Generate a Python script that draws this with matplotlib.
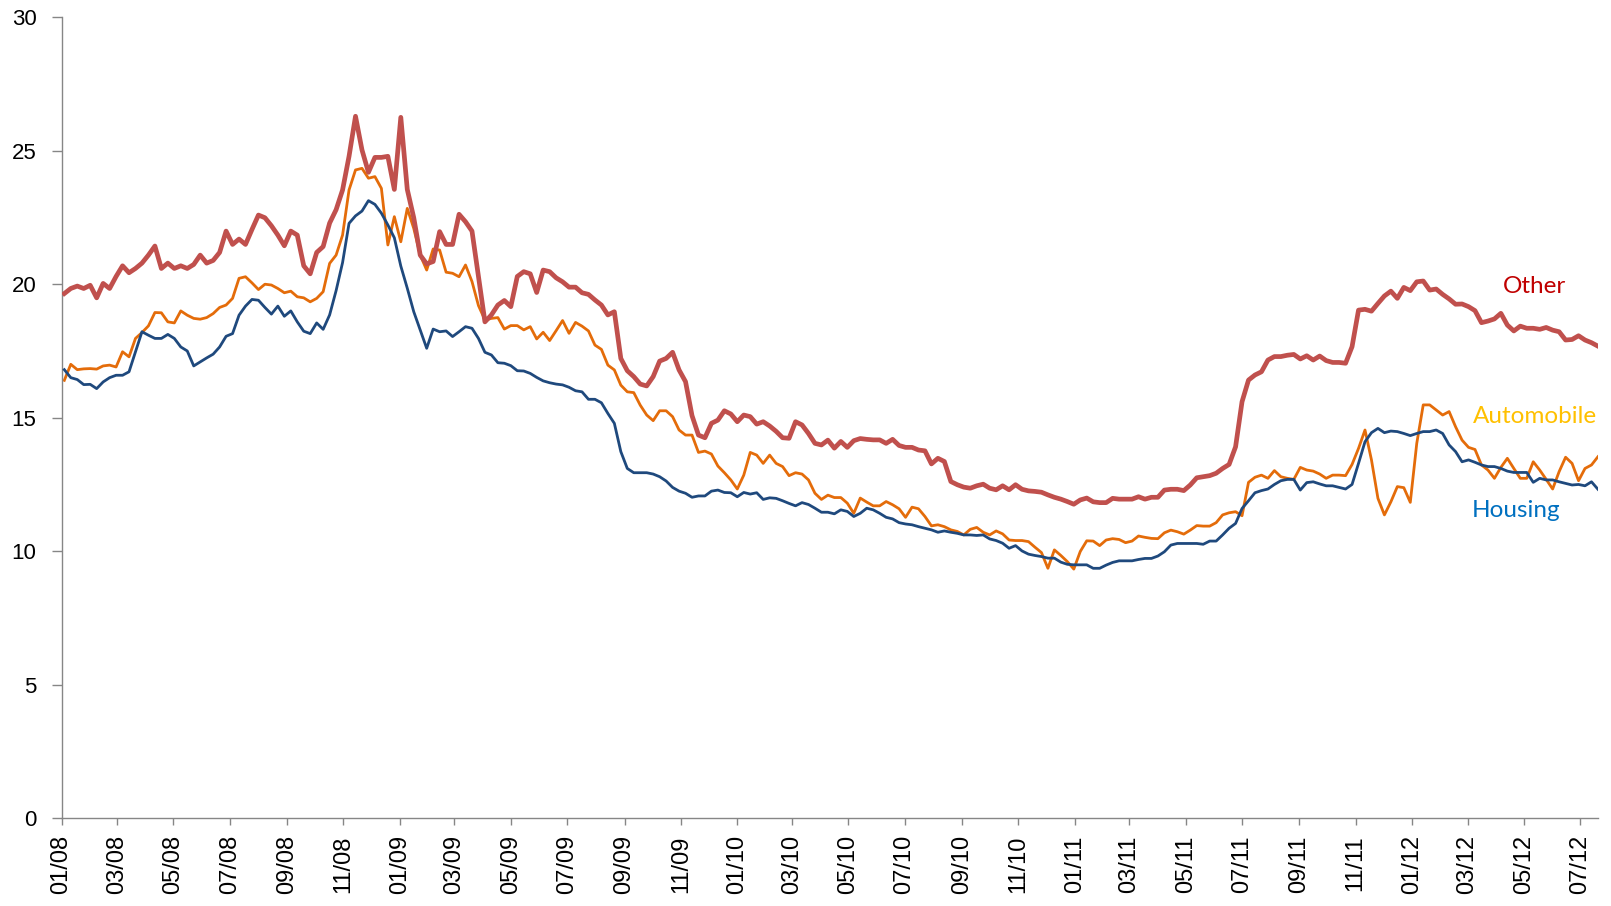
import matplotlib
matplotlib.use("Agg")
import matplotlib.pyplot as plt
import matplotlib.dates as mdates
import pandas as pd

plt.rcParams['font.family'] = ['Lato', 'DejaVu Sans']

# weekly series, first week ending 4 Jan 2008
start_date = '2008-01-04'

other = [
    # 2008
    19.66, 19.85, 19.94, 19.85, 19.97, 19.5, 20.04, 19.85, 20.3, 20.7,
    20.44, 20.6, 20.8, 21.1, 21.44, 20.6, 20.8, 20.6, 20.7, 20.6,
    20.75, 21.1, 20.8, 20.9, 21.2, 22.0, 21.5, 21.7, 21.5, 22.06,
    22.6, 22.5, 22.2, 21.85, 21.45, 22.0, 21.85, 20.7, 20.4, 21.2,
    21.42, 22.3, 22.8, 23.54, 24.8, 26.3, 25.04, 24.2, 24.76, 24.76,
    24.8, 23.56, 26.26, 23.56, 22.5, 21.1, 20.77, 20.86, 21.98, 21.5,
    21.5, 22.63, 22.35, 22.0, 20.3, 18.6, 18.86, 19.23, 19.4, 19.17,
    20.3, 20.48, 20.4, 19.7, 20.54, 20.48, 20.25, 20.1, 19.9, 19.9,
    # 2009
    19.69, 19.63, 19.42, 19.23, 18.86, 18.98, 17.23, 16.77, 16.55, 16.27,
    16.2, 16.55, 17.13, 17.23, 17.46, 16.8, 16.36, 15.09, 14.36, 14.26,
    14.8, 14.92, 15.27, 15.15, 14.86, 15.11, 15.05, 14.77, 14.86, 14.7,
    14.5, 14.26, 14.24, 14.86, 14.74, 14.42, 14.05, 13.99, 14.17,
    13.87, 14.12, 13.9, 14.15, 14.23, 14.2, 14.18, 14.18, 14.05, 14.2,
    13.97, 13.9, 13.9, 13.8, 13.77, 13.28, 13.49, 13.37, 12.62, 12.5,
    12.41, 12.37, 12.46, 12.52, 12.37, 12.31, 12.46, 12.31, 12.5, 12.33,
    12.27, 12.25, 12.22, 12.12, 12.03, 11.96, 11.87, 11.77, 11.93, 12.0,
    # 2011
    11.86, 11.83, 11.83, 11.99, 11.96, 11.96, 11.96, 12.05, 11.96, 12.03,
    12.03, 12.3, 12.33, 12.33, 12.28, 12.49, 12.76, 12.8, 12.84, 12.93,
    13.11, 13.26, 13.92, 15.61, 16.42, 16.61, 16.73, 17.17, 17.3, 17.3,
    17.35, 17.38, 17.21, 17.33, 17.17, 17.32, 17.15, 17.08, 17.08,
    17.05, 17.67, 19.04, 19.07, 19.0, 19.29, 19.57, 19.75, 19.48, 19.89,
    19.77, 20.1, 20.13, 19.79, 19.83, 19.63, 19.46, 19.26, 19.27, 19.17,
    19.02, 18.57, 18.63, 18.71, 18.92, 18.48, 18.26, 18.44, 18.36, 18.36,
    18.32, 18.39, 18.29, 18.23, 17.92, 17.94, 18.08, 17.92, 17.82, 17.69,
]

automobile = [
    16.41, 17.01, 16.81, 16.84, 16.85, 16.83, 16.95, 16.98, 16.91, 17.48,
    17.29, 17.98, 18.2, 18.45, 18.95, 18.94, 18.6, 18.56, 19.01, 18.85,
    18.73, 18.7, 18.76, 18.91, 19.14, 19.23, 19.48, 20.23, 20.29, 20.06,
    19.81, 20.01, 19.98, 19.85, 19.69, 19.75, 19.54, 19.5, 19.35, 19.48,
    19.73, 20.79, 21.1, 21.85, 23.54, 24.29, 24.35, 23.98, 24.04, 23.6,
    21.48, 22.54, 21.6, 22.85, 22.1, 21.1, 20.54, 21.33, 21.29, 20.46,
    20.42, 20.29, 20.73, 20.11, 19.21, 18.67, 18.73, 18.76, 18.33, 18.46,
    18.46, 18.3, 18.42, 17.96, 18.21, 17.9, 18.27, 18.65, 18.17, 18.58,
    18.44, 18.26, 17.73, 17.57, 16.98, 16.8, 16.23, 15.98, 15.95, 15.48,
    15.11, 14.9, 15.27, 15.27, 15.05, 14.55, 14.36, 14.36, 13.71, 13.76,
    13.65, 13.2, 12.95, 12.68, 12.34, 12.86, 13.71, 13.61, 13.3, 13.61,
    13.3, 13.18, 12.84, 12.95, 12.9, 12.68, 12.18, 11.95, 12.11,
    12.02, 12.02, 11.81, 11.43, 12.0, 11.85, 11.71, 11.71, 11.87, 11.75,
    11.6, 11.28, 11.66, 11.6, 11.31, 10.96, 11.0, 10.93, 10.81, 10.75,
    10.62, 10.83, 10.9, 10.72, 10.62, 10.77, 10.66, 10.43, 10.41, 10.41,
    10.37, 10.16, 9.96, 9.37, 10.06, 9.85, 9.62, 9.34, 10.0, 10.4,
    10.39, 10.22, 10.43, 10.48, 10.45, 10.33, 10.39, 10.58, 10.53, 10.49,
    10.48, 10.7, 10.8, 10.74, 10.65, 10.8, 10.97, 10.95, 10.95, 11.08,
    11.37, 11.45, 11.49, 11.34, 12.59, 12.78, 12.86, 12.74, 13.03, 12.8,
    12.74, 12.7, 13.15, 13.05, 13.01, 12.9, 12.74, 12.86, 12.86,
    12.84, 13.26, 13.86, 14.55, 13.43, 11.99, 11.37, 11.86, 12.43, 12.39,
    11.84, 14.05, 15.49, 15.49, 15.3, 15.11, 15.24, 14.67, 14.17, 13.9,
    13.82, 13.24, 13.05, 12.74, 13.15, 13.49, 13.11, 12.74, 12.74, 13.36,
    13.05, 12.7, 12.34, 12.99, 13.53, 13.3, 12.65, 13.11, 13.24, 13.55,
]

housing = [
    16.81, 16.51, 16.44, 16.25, 16.26, 16.1, 16.35, 16.51, 16.6, 16.6,
    16.73, 17.48, 18.23, 18.1, 17.98, 17.98, 18.13, 17.98, 17.66, 17.51,
    16.95, 17.1, 17.25, 17.39, 17.66, 18.06, 18.16, 18.85, 19.19, 19.44,
    19.41, 19.14, 18.89, 19.19, 18.81, 19.01, 18.6, 18.25, 18.16, 18.56,
    18.32, 18.86, 19.77, 20.82, 22.29, 22.57, 22.75, 23.14, 23.0, 22.67,
    22.23, 21.75, 20.69, 19.86, 18.98, 18.3, 17.61, 18.33, 18.23, 18.26,
    18.05, 18.23, 18.42, 18.36, 17.98, 17.46, 17.36, 17.07, 17.05, 16.96,
    16.77, 16.76, 16.67, 16.52, 16.39, 16.32, 16.27, 16.24, 16.15, 16.02,
    15.98, 15.7, 15.7, 15.57, 15.17, 14.8, 13.74, 13.11, 12.95, 12.95,
    12.95, 12.9, 12.8, 12.64, 12.4, 12.26, 12.18, 12.03, 12.08, 12.08,
    12.26, 12.3, 12.21, 12.2, 12.05, 12.21, 12.15, 12.2, 11.95, 12.01,
    11.99, 11.9, 11.8, 11.71, 11.83, 11.76, 11.62, 11.47, 11.47,
    11.41, 11.56, 11.5, 11.31, 11.43, 11.62, 11.56, 11.43, 11.28, 11.22,
    11.08, 11.03, 11.0, 10.93, 10.87, 10.81, 10.72, 10.77, 10.72, 10.68,
    10.62, 10.62, 10.6, 10.62, 10.47, 10.41, 10.31, 10.12, 10.22, 10.02,
    9.9, 9.85, 9.81, 9.75, 9.75, 9.6, 9.52, 9.5, 9.5, 9.5,
    9.37, 9.37, 9.49, 9.59, 9.65, 9.65, 9.65, 9.7, 9.74, 9.74,
    9.83, 9.99, 10.24, 10.3, 10.3, 10.3, 10.3, 10.27, 10.39, 10.39,
    10.62, 10.87, 11.05, 11.61, 11.9, 12.2, 12.28, 12.34, 12.51, 12.65,
    12.7, 12.7, 12.3, 12.58, 12.61, 12.53, 12.46, 12.46, 12.4,
    12.34, 12.51, 13.3, 14.11, 14.45, 14.61, 14.45, 14.51, 14.49, 14.42,
    14.34, 14.42, 14.49, 14.49, 14.55, 14.42, 13.99, 13.74, 13.36, 13.43,
    13.34, 13.24, 13.18, 13.18, 13.11, 13.01, 12.96, 12.96, 12.96, 12.59,
    12.74, 12.68, 12.68, 12.61, 12.55, 12.49, 12.51, 12.46, 12.61, 12.33,
]

# end-of-line labels: (text, date, value, colour)
labels = [
    ('Other', '2012-05-12', 19.94, '#C00000'),
    ('Automobile', '2012-05-13', 15.07, '#FFC000'),
    ('Housing', '2012-04-22', 11.52, '#0070C0'),
]

n = max(len(other), len(automobile), len(housing))
dates = pd.date_range(start_date, periods=n, freq='7D')

fig = plt.figure(figsize=(16.11, 9.06), dpi=100)
ax = fig.add_axes([0.0382, 0.0966, 0.9537, 0.8841])

ax.plot(dates[:len(housing)], housing, color='#1F497D', lw=2.0, zorder=3)
ax.plot(dates[:len(automobile)], automobile, color='#E46C0A', lw=2.0, zorder=2)
ax.plot(dates[:len(other)], other, color='#C0504D', lw=3.4, zorder=4)

for text, d, v, c in labels:
    ax.text(pd.Timestamp(d), v, text, color=c, fontsize=17.5,
            ha='center', va='center')

ax.set_ylim(0, 30)
ax.set_yticks(range(0, 31, 5))
ax.set_xlim(pd.Timestamp('2008-01-01'), dates[-1])
ax.xaxis.set_major_locator(mdates.MonthLocator(bymonth=[1, 3, 5, 7, 9, 11]))
ax.xaxis.set_major_formatter(mdates.DateFormatter('%m/%y'))

for side in ['top', 'right']:
    ax.spines[side].set_visible(False)
for side in ['left', 'bottom']:
    ax.spines[side].set_color('#868686')
    ax.spines[side].set_linewidth(1.0)

ax.tick_params(axis='y', colors='#868686', labelcolor='black', labelsize=16,
               length=7, width=1.0, pad=11)
ax.tick_params(axis='x', colors='#868686', labelcolor='black', labelsize=17,
               length=5, width=1.0, pad=7)
for lab in ax.get_xticklabels() + ax.get_yticklabels():
    lab.set_fontfamily(['Liberation Sans', 'DejaVu Sans'])
plt.setp(ax.get_xticklabels(), rotation=90)

fig.savefig('out.png', dpi=100)
